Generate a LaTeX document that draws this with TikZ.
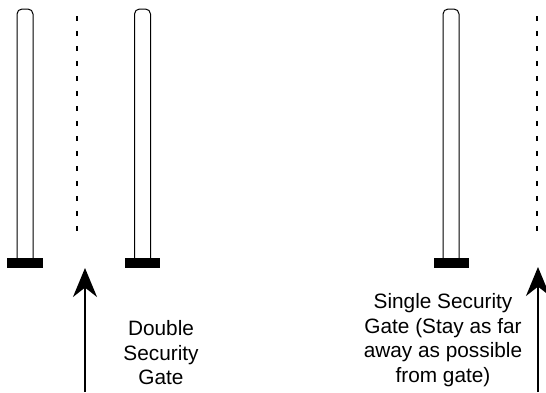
\documentclass[tikz,border=0pt]{standalone}
\usepackage{fontspec}
\setmainfont{Liberation Sans}
\usetikzlibrary{arrows.meta, positioning}
\tikzset{
  every node/.style = {transform shape},
  pole/.style       = {draw, line width=1pt, rounded corners=5pt},
  foot/.style       = {fill=black},
  stayline/.style   = {line width=2pt, dash pattern=on 5pt off 10pt},
  walk/.style       = {-{Stealth[length=29pt, width=24pt]}, line width=2pt},
  label/.style      = {align=center, inner sep=0pt,
                       font=\fontsize{20.8}{24.5}\selectfont}
}
\begin{document}
\begin{tikzpicture}[x=1pt, y=-1pt]
  \useasboundingbox (0,0) rectangle (546,392);
  % gate poles with their feet
  \foreach \px/\fw in {25/18, 142.5/17.5, 451/17.5} {
    \draw[pole] (\px-8,258) -- (\px-8,9) -- (\px+8,9) -- (\px+8,258);
    \fill[foot] (\px-\fw,258) rectangle (\px+\fw,268);
  }
  % where to stand
  \draw[stayline] (77,16) -- (77,236);
  \draw[stayline] (537,16) -- (537,236);
  % walking direction
  \coordinate (from1) at (85,392);
  \coordinate (to1)   at (85,268);
  \coordinate (from2) at (538,392);
  \coordinate (to2)   at (538,267);
  \draw[walk] (from1) -- (to1);
  \draw[walk] (from2) -- (to2);
  \node[label] (double) at (161,353) {Double\\Security\\Gate};
  \node[label] (single) at (443,340) {Single Security\\Gate (Stay as far\\away as possible\\from gate)};
\end{tikzpicture}
\end{document}
